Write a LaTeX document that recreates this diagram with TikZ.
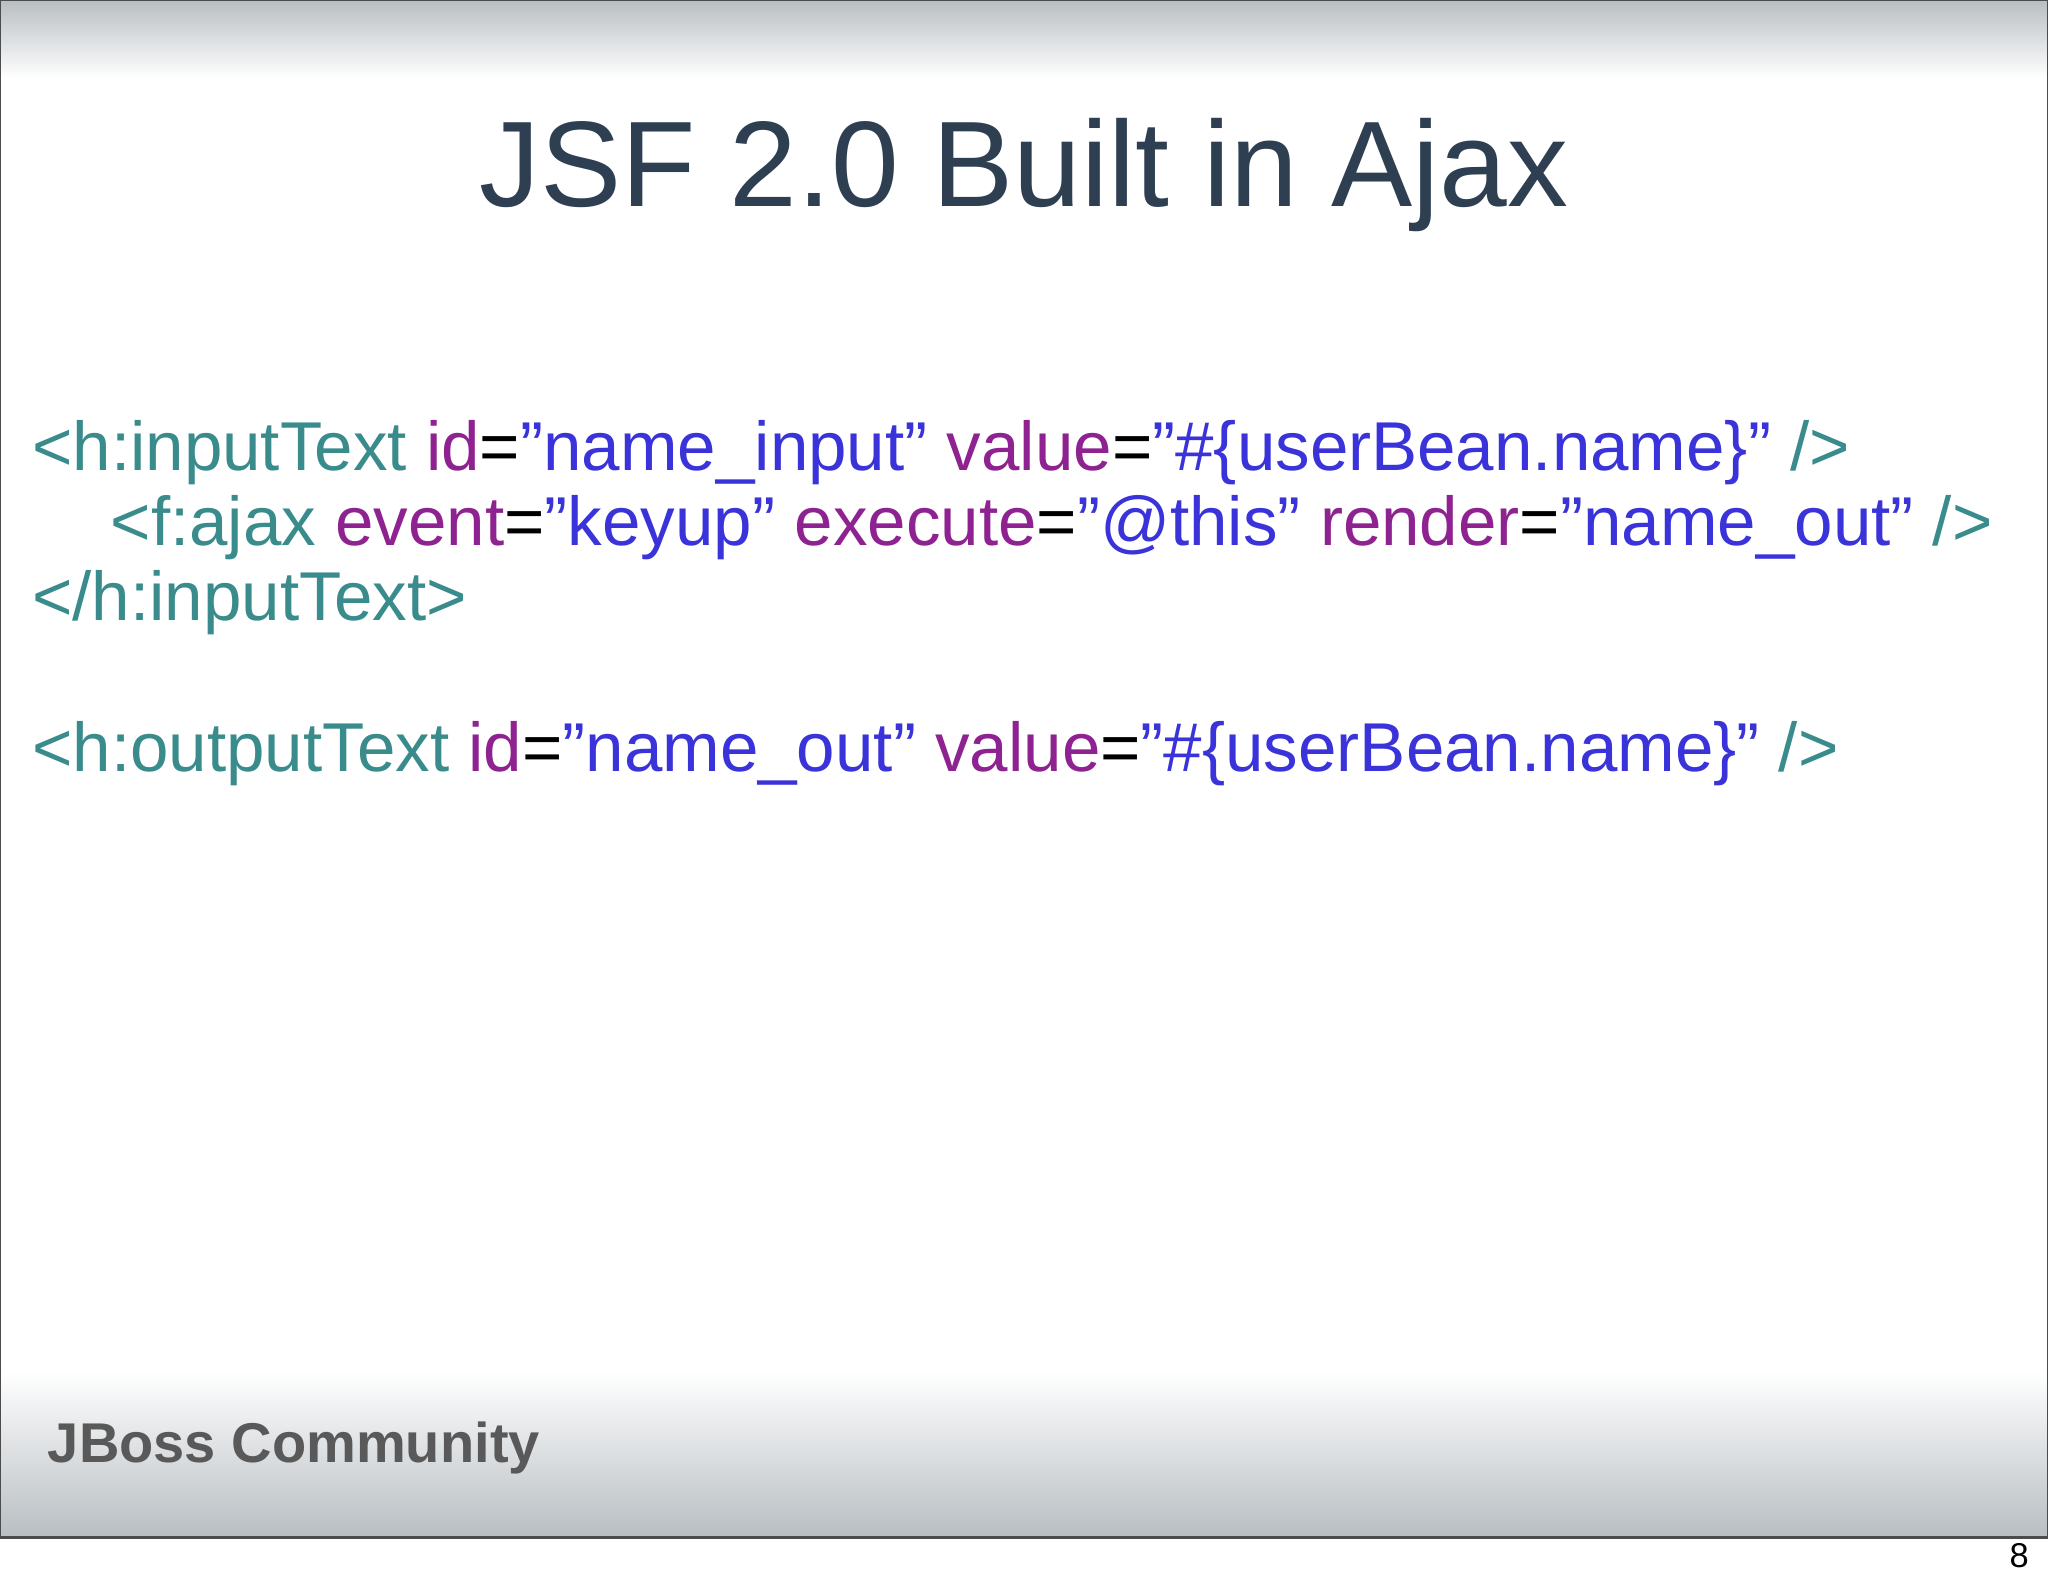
\documentclass[tikz,border=0pt]{standalone}
\usepackage{fontspec}
\setmainfont{Liberation Sans}[Ligatures=ResetAll]
\definecolor{tg}{HTML}{3A8C8C}
\definecolor{at}{HTML}{8E2290}
\definecolor{vl}{HTML}{3A33DA}
\definecolor{ti}{HTML}{2E3F52}
\definecolor{gr}{HTML}{B8BEC2}
\newcommand{\q}{\symbol{34}}
\begin{document}
\begin{tikzpicture}[x=0.01cm,y=-0.01cm,
  code/.style={anchor=base west,inner sep=0,font=\fontsize{15.05}{18}\selectfont}]
\useasboundingbox (0,0) rectangle (1568,1215);
\fill[white] (0,0) rectangle (1568,1215);
\shade[top color=gr,bottom color=white] (0,0) rectangle (1568,60);
\shade[top color=white,bottom color=gr] (0,1050) rectangle (1568,1177);
\draw[black!70,line width=0.6pt] (0,0) rectangle (1568,1177);
\node[anchor=base,font=\fontsize{26.5}{30}\selectfont,text=ti,inner sep=0] (title) at (784,158) {JSF 2.0 Built in Ajax};
\node[code] (l1) at (24,360) {\textcolor{tg}{<h:inputText} \textcolor{at}{id}=\textcolor{vl}{\q name\_input\q} \textcolor{at}{value}=\textcolor{vl}{\q\#\{userBean.name\}\q} \textcolor{tg}{/>}};
\node[code] (l2) at (84,418) {\textcolor{tg}{<f:ajax} \textcolor{at}{event}=\textcolor{vl}{\q keyup\q} \textcolor{at}{execute}=\textcolor{vl}{”@this”} \textcolor{at}{render}=\textcolor{vl}{\q name\_out\q} \textcolor{tg}{/>}};
\node[code] (l3) at (24,475) {\textcolor{tg}{</h:inputText>}};
\node[code] (l5) at (24,591) {\textcolor{tg}{<h:outputText} \textcolor{at}{id}=\textcolor{vl}{\q name\_out\q} \textcolor{at}{value}=\textcolor{vl}{\q\#\{userBean.name\}\q} \textcolor{tg}{/>}};
\node[anchor=base west,inner sep=0,font=\fontsize{12.2}{14}\selectfont\bfseries,text=black!65] (logo) at (36,1120) {JBoss Community};
\node[anchor=base,inner sep=0,font=\fontsize{7.5}{8}\selectfont] (pg) at (1546,1200) {8};
\end{tikzpicture}
\end{document}
